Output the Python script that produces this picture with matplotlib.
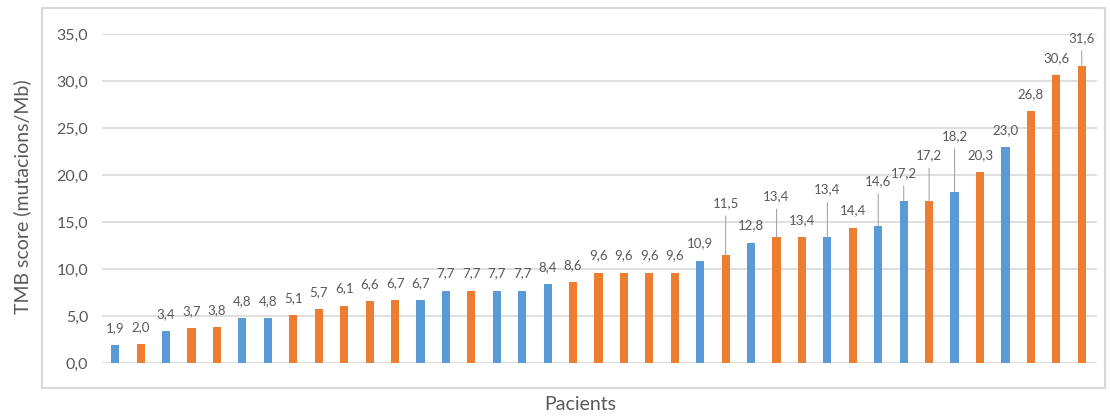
import matplotlib.pyplot as plt
from matplotlib.patches import Rectangle

# TMB per pacient, ordenat de menor a major
tmb = [1.9, 2.0, 3.4, 3.7, 3.8, 4.8, 4.8, 5.1, 5.7, 6.1, 6.6, 6.7, 6.7,
       7.7, 7.7, 7.7, 7.7, 8.4, 8.6, 9.6, 9.6, 9.6, 9.6, 10.9, 11.5, 12.8,
       13.4, 13.4, 13.4, 14.4, 14.6, 17.2, 17.2, 18.2, 20.3, 23.0, 26.8,
       30.6, 31.6]
# grup de cada pacient (B = blau, O = taronja)
group = ['B', 'O', 'B', 'O', 'O', 'B', 'B', 'O', 'O', 'O', 'O', 'O', 'B',
         'B', 'O', 'B', 'B', 'B', 'O', 'O', 'O', 'O', 'O', 'B', 'O', 'B',
         'O', 'O', 'B', 'O', 'B', 'B', 'O', 'B', 'O', 'B', 'O',
         'O', 'O']
yticks = [0, 5, 10, 15, 20, 25, 30, 35]

colors = {'B': '#5B9BD5', 'O': '#ED7D31'}
txt = '#595959'
font = 'Lato'

W, H = 1110, 418
fig = plt.figure(figsize=(W / 100, H / 100), dpi=100)
ax = fig.add_axes([102 / W, (H - 363) / H, (1097 - 102) / W, (363 - 34) / H])

x = list(range(len(tmb)))
ax.bar(x, tmb, width=0.32, color=[colors[g] for g in group], zorder=3)

ax.set_ylim(0, 35)
ax.set_xlim(-0.52, len(tmb) - 0.4)
ax.set_yticks(yticks)
ax.set_yticklabels([f"{v:.1f}".replace('.', ',') for v in yticks],
                   color=txt, fontsize=11.5, family=font)
ax.set_xticks([])
ax.tick_params(axis='y', length=0, pad=10)
ax.grid(axis='y', color='#D9D9D9', linewidth=1.2, zorder=0)
for s in ax.spines.values():
    s.set_visible(False)

# etiquetes desplaçades amb línia guia (punts per sobre del normal)
lift = {24: 25, 26: 17, 28: 22, 30: 20, 31: 8, 32: 21, 33: 28, 38: 8}
for i, v in enumerate(tmb):
    extra = lift.get(i, 0)
    ax.annotate(f"{v:.1f}".replace('.', ','), (i, v),
                xytext=(0, 8 + extra), textcoords='offset points',
                ha='center', va='bottom', fontsize=9.5, color=txt, family=font)
    if extra:
        ax.annotate('', (i, v), xytext=(0, 3 + extra), textcoords='offset points',
                    arrowprops=dict(arrowstyle='-', color='#A6A6A6', lw=0.8,
                                    shrinkA=0, shrinkB=0))

fig.text(22 / W, (H - 197) / H, 'TMB score (mutacions/Mb)', rotation=90,
         ha='center', va='center', fontsize=14, color=txt, family=font)
fig.text(580 / W, (H - 405) / H, 'Pacients', ha='center', va='center',
         fontsize=14, color=txt, family=font)

# marc exterior del gràfic
fig.add_artist(Rectangle((42 / W, (H - 388) / H), (1105 - 42) / W, (388 - 8) / H,
                         transform=fig.transFigure, fill=False,
                         edgecolor='#D9D9D9', linewidth=1.5))

fig.savefig('out.png', dpi=100)
